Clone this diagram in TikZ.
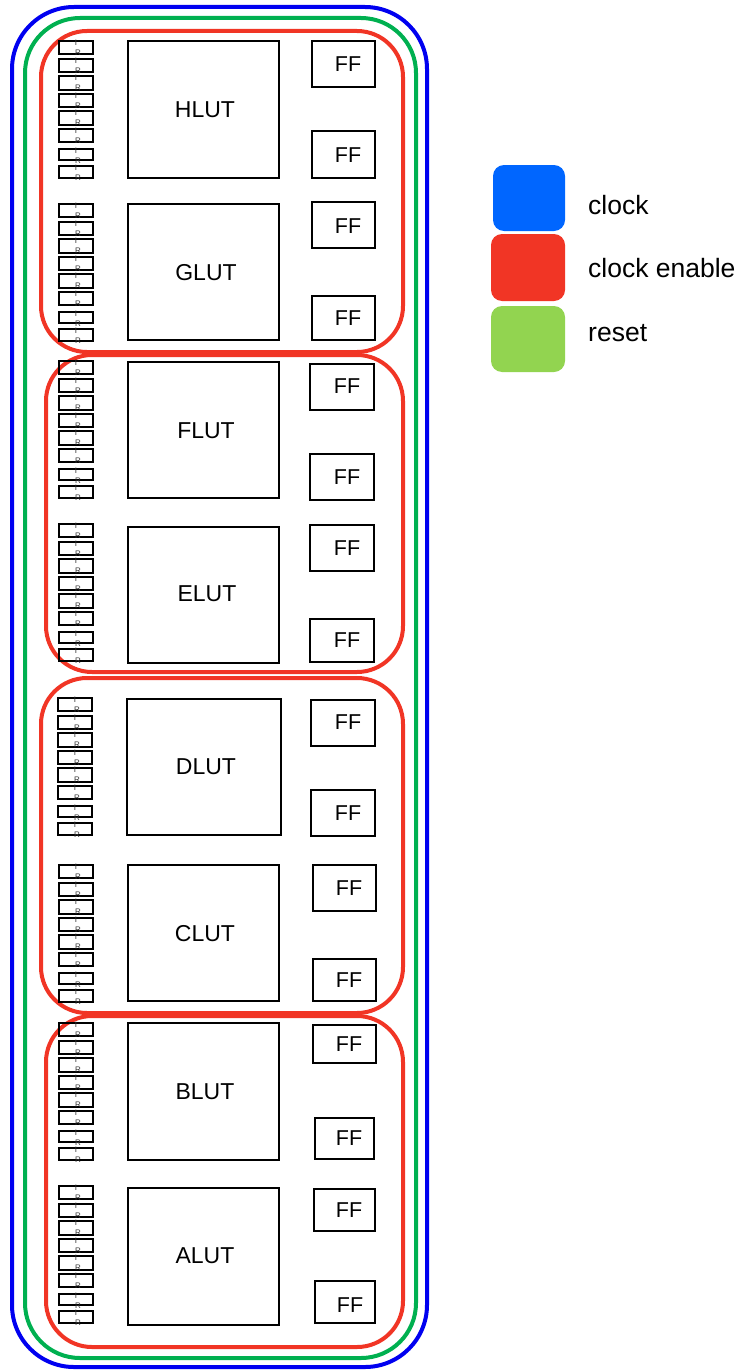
\documentclass[tikz,border=0pt]{standalone}
\usepackage{fontspec}
\setmainfont{Liberation Sans}
\usepackage{xcolor}
\definecolor{clockcol}{RGB}{0,0,240}
\definecolor{resetcol}{RGB}{0,176,80}
\definecolor{enablecol}{RGB}{241,53,37}
\definecolor{clockkey}{RGB}{0,102,255}
\definecolor{resetkey}{RGB}{146,212,80}

\begin{document}
\begin{tikzpicture}[
    x=1pt, y=-1pt,
    cellbox/.style={rectangle, draw, line width=1.8pt, inner sep=0pt, outer sep=0pt, anchor=north west},
    pinbox/.style={cellbox, line width=1.7pt, minimum width=34pt},
    pinlabel/.style={inner sep=0pt, text=black!80, font=\fontsize{8}{8}\selectfont},
    celllabel/.style={inner sep=0pt, font=\fontsize{23}{26}\selectfont},
    fflabel/.style={inner sep=0pt, font=\fontsize{21.5}{26}\selectfont},
    ringbox/.style={rectangle, draw, line width=4pt, inner sep=0pt, outer sep=0pt, anchor=north west},
    swatch/.style={rectangle, rounded corners=11pt, inner sep=0pt, outer sep=0pt, anchor=north west},
    keylabel/.style={inner sep=0pt, anchor=west, font=\fontsize{26.5}{30}\selectfont},
]
\useasboundingbox (0,0) rectangle (738,1370);

% clock and reset
\node[ringbox, draw=clockcol, rounded corners=62pt, minimum width=415pt, minimum height=1360pt] (clockring) at (12,7) {};
\node[ringbox, draw=resetcol, rounded corners=55pt, minimum width=391pt, minimum height=1340pt] (resetring) at (25,18) {};

% clock enable
\foreach \n/\x/\y/\w/\h in {ceH/41/31/362/321, ceF/46/355/357/317, ceD/41/678/362/335, ceB/46/1016/357/331} {
    \node[ringbox, draw=enablecol, rounded corners=46pt, minimum width=\w pt, minimum height=\h pt] (\n) at (\x,\y) {};
}

% luts
\foreach \n/\x/\y/\w/\h/\lx/\ly in {
    H/128/41/151/137/205/110, G/128/204/151/136/206/273,
    F/128/362/151/136/206/431, E/128/527/151/136/207/594,
    D/127/699/154/136/206/767, C/128/865/151/136/205/934,
    B/128/1023/151/137/205/1092, A/128/1188/151/137/205/1256} {
    \node[cellbox, minimum width=\w pt, minimum height=\h pt] (lut\n) at (\x,\y) {};
    \node[celllabel] (lutlabel\n) at (\lx,\ly) {\n LUT};
}

% flip-flops
\foreach \n/\x/\y/\w/\h/\lx/\ly in {
    a/312/41/63/46/348/64, b/312/131/63/47/348/155,
    c/312/202/63/46/348/226, d/312/296/63/44/348/318,
    e/310/364/64/46/347/386, f/310/454/64/46/347/477,
    g/310/525/64/46/347/548, h/310/619/64/43/347/640,
    i/311/700/64/46/348/722, j/311/790/64/46/348/813,
    k/313/865/63/46/349/888, l/313/959/63/42/349/980,
    m/313/1025/63/38/349/1044, n/315/1118/59/41/349/1138,
    o/314/1189/61/42/349/1210, p/315/1281/60/42/350/1305} {
    \node[cellbox, minimum width=\w pt, minimum height=\h pt] (ff\n) at (\x,\y) {};
    \node[fflabel] (ffname\n) at (\lx,\ly) {FF};
}

% input pins
\foreach \g/\px/\py in {H/59/41, G/59/204, F/59/361, E/59/524, D/58/698, C/59/865, B/59/1023, A/59/1186} {
    \foreach \i/\dy/\ph in {1/0/13, 2/18/13, 3/35/14, 4/53/13, 5/70/14, 6/88/13, 7/108/11, 8/125/12} {
        \node[pinbox, minimum height=\ph pt] (pin\g\i) at (\px,{\py+\dy}) {};
        \node[pinlabel] (pinI\g\i) at ({\px+17},{\py+\dy+2}) {I};
        \node[pinlabel] (pinR\g\i) at ({\px+19},{\py+\dy+12}) {R};
    }
}

% legend
\node[swatch, fill=clockkey, minimum width=72pt, minimum height=66pt] (keyclock) at (493,165) {};
\node[swatch, fill=enablecol, minimum width=74pt, minimum height=67pt] (keyenable) at (491,234) {};
\node[swatch, fill=resetkey, minimum width=74pt, minimum height=66pt] (keyreset) at (491,306) {};
\node[keylabel] (labelclock) at (588,205) {clock};
\node[keylabel] (labelenable) at (588,268) {clock enable};
\node[keylabel] (labelreset) at (588,333) {reset};
\end{tikzpicture}
\end{document}
